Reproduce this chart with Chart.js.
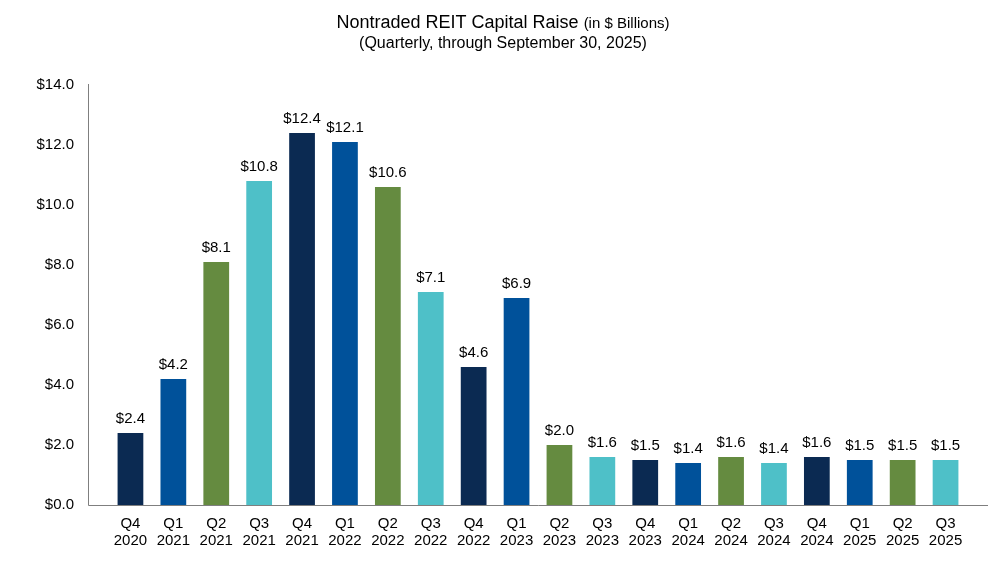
<!DOCTYPE html>
<html>
<head>
<meta charset="utf-8">
<script src="https://cdn.jsdelivr.net/npm/chart.js@4.4.1/dist/chart.umd.min.js"></script>
<style>
    html, body { margin: 0; padding: 0; background: #fff; }
    #wrap { width: 996px; height: 571px; }
</style>
</head>
<body>
<div id="wrap"><canvas id="chartRaise"></canvas></div>
<script>
const quarters = ['Q4', 'Q1', 'Q2', 'Q3', 'Q4', 'Q1', 'Q2', 'Q3', 'Q4', 'Q1', 'Q2', 'Q3', 'Q4', 'Q1', 'Q2', 'Q3', 'Q4', 'Q1', 'Q2', 'Q3'];
const years = ['2020', '2021', '2021', '2021', '2021', '2022', '2022', '2022', '2022', '2023', '2023', '2023', '2023', '2024', '2024', '2024', '2024', '2025', '2025', '2025'];
const capitalRaise = [2.4, 4.2, 8.1, 10.8, 12.4, 12.1, 10.6, 7.1, 4.6, 6.9, 2.0, 1.6, 1.5, 1.4, 1.6, 1.4, 1.6, 1.5, 1.5, 1.5];
const yTicks = [0, 2, 4, 6, 8, 10, 12, 14];

const quarterColors = { Q1: '#00519A', Q2: '#658B40', Q3: '#4EC0C8', Q4: '#0B2A52' };
const fontFamily = '"Liberation Sans", Arial, sans-serif';

document.addEventListener('DOMContentLoaded', function () {
    const labels = quarters.map((q, i) => [q, years[i]]);
    const colors = quarters.map(q => quarterColors[q]);

    // titulo con dos tamaños de letra
    const titlePlugin = {
        id: 'titleText',
        afterDraw(chart) {
            const ctx = chart.ctx;
            ctx.save();
            ctx.fillStyle = '#000';
            ctx.textBaseline = 'alphabetic';
            const big = '18px ' + fontFamily;
            const small = '15px ' + fontFamily;
            const t1 = 'Nontraded REIT Capital Raise ';
            const t2 = '(in $ Billions)';
            ctx.font = big;
            const w1 = ctx.measureText(t1).width;
            ctx.font = small;
            const w2 = ctx.measureText(t2).width;
            let x = 503 - (w1 + w2) / 2;
            ctx.textAlign = 'left';
            ctx.font = big;
            ctx.fillText(t1, x, 28);
            ctx.font = small;
            ctx.fillText(t2, x + w1, 28);
            ctx.font = '16px ' + fontFamily;
            ctx.textAlign = 'center';
            ctx.fillText('(Quarterly, through September 30, 2025)', 503, 48);
            ctx.restore();
        }
    };

    // ejes extendidos fuera del area de barras
    const axisLines = {
        id: 'axisLines',
        afterDatasetsDraw(chart) {
            const { ctx, chartArea } = chart;
            const ext = 21;
            ctx.save();
            ctx.strokeStyle = '#7f7f7f';
            ctx.lineWidth = 1;
            ctx.beginPath();
            ctx.moveTo(chartArea.left - ext + 0.5, chartArea.top - 1);
            ctx.lineTo(chartArea.left - ext + 0.5, chartArea.bottom + 0.5);
            ctx.lineTo(chartArea.right + ext, chartArea.bottom + 0.5);
            ctx.stroke();
            ctx.restore();
        }
    };

    // etiquetas de valor sobre cada barra
    const valueLabels = {
        id: 'valueLabels',
        afterDatasetsDraw(chart) {
            const ctx = chart.ctx;
            const meta = chart.getDatasetMeta(0);
            ctx.save();
            ctx.font = '15px ' + fontFamily;
            ctx.fillStyle = '#000';
            ctx.textAlign = 'center';
            ctx.textBaseline = 'bottom';
            meta.data.forEach((bar, i) => {
                ctx.fillText('$' + capitalRaise[i].toFixed(1), bar.x, bar.y - 7);
            });
            ctx.restore();
        }
    };

    const ctx = document.getElementById('chartRaise').getContext('2d');
    new Chart(ctx, {
        type: 'bar',
        data: {
            labels: labels,
            datasets: [{
                label: 'Capital Raise',
                data: capitalRaise,
                backgroundColor: colors,
                borderWidth: 0,
                barPercentage: 0.6,
                categoryPercentage: 1.0
            }]
        },
        options: {
            responsive: true,
            maintainAspectRatio: false,
            animation: false,
            layout: { padding: { top: 85, right: 29, bottom: 0, left: 0 } },
            plugins: {
                legend: { display: false },
                tooltip: { enabled: false }
            },
            scales: {
                x: {
                    offset: true,
                    grid: { display: false, drawTicks: false },
                    border: { display: false },
                    ticks: {
                        color: '#000',
                        padding: 10,
                        maxRotation: 0,
                        autoSkip: false,
                        font: { family: fontFamily, size: 15, lineHeight: 1.15 }
                    },
                    afterFit(scale) { scale.height = 66; }
                },
                y: {
                    min: 0,
                    max: 14,
                    afterBuildTicks(scale) { scale.ticks = yTicks.map(v => ({ value: v })); },
                    grid: { display: false, drawTicks: false },
                    border: { display: false },
                    ticks: {
                        color: '#000',
                        padding: 35,
                        font: { family: fontFamily, size: 15 },
                        callback: (v) => '$' + Number(v).toFixed(1)
                    },
                    afterFit(scale) { scale.width = 109; }
                }
            }
        },
        plugins: [titlePlugin, axisLines, valueLabels]
    });
});
</script>
</body>
</html>
